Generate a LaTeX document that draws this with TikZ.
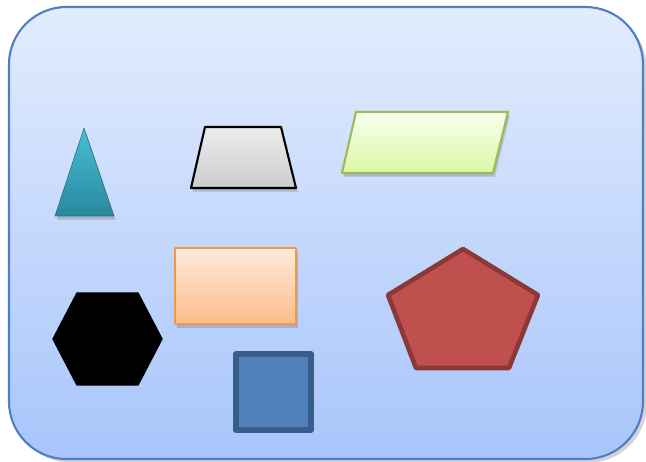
\documentclass[tikz,border=0pt]{standalone}
\usepackage{tikz}
\usetikzlibrary{shadows}

\definecolor{panelTop}{HTML}{E3ECFE}
\definecolor{panelBot}{HTML}{A7C5FB}
\definecolor{panelLine}{HTML}{4F7FC2}
\definecolor{tealTop}{HTML}{45BFD6}
\definecolor{tealBot}{HTML}{2A889E}
\definecolor{greenLine}{HTML}{9BBB59}
\definecolor{greenTop}{HTML}{F8FFEE}
\definecolor{greenBot}{HTML}{DBF8A6}
\definecolor{orangeLine}{HTML}{F79646}
\definecolor{orangeTop}{HTML}{FDEADD}
\definecolor{orangeBot}{HTML}{FBBE88}
\definecolor{blueFill}{HTML}{4F81BD}
\definecolor{blueLine}{HTML}{385D8A}
\definecolor{redFill}{HTML}{C0504D}
\definecolor{redLine}{HTML}{8C3836}

\begin{document}
\begin{tikzpicture}[x=0.02cm, y=-0.02cm, line join=round,
		soft/.style={drop shadow={opacity=0.4, shadow xshift=1pt, shadow yshift=-2pt}},
		panel/.style={draw=panelLine, line width=1.2pt, top color=panelTop, bottom color=panelBot, rounded corners=1.15cm,
			drop shadow={opacity=0.35, shadow xshift=2pt, shadow yshift=-2pt}},
		cone/.style={soft, top color=tealTop, bottom color=tealBot, draw=tealBot!80!black, line width=0.3pt},
		trap/.style={soft, draw=black, line width=1.2pt, top color=gray!15, bottom color=gray!40},
		slant/.style={soft, draw=greenLine, line width=1.2pt, top color=greenTop, bottom color=greenBot},
		card/.style={soft, draw=orangeLine, line width=1.2pt, top color=orangeTop, bottom color=orangeBot},
		hexa/.style={fill=black, draw=black, line width=0.8pt},
		tile/.style={draw=blueLine, line width=3pt, fill=blueFill},
		penta/.style={draw=redLine, line width=2.6pt, fill=redFill}]
		
		\useasboundingbox (0,0) rectangle (646,462);
		
		% Fond
		\path[panel] (9,7) rectangle (643,459);
		
		% Rangée du haut
		\path[cone] (84,128) -- (114,216) -- (55,216) -- cycle;
		\path[trap] (205,127) -- (281,127) -- (296,188) -- (191,188) -- cycle;
		\path[slant] (356,112) -- (508,112) -- (493,173) -- (342,173) -- cycle;
		
		% Rangée du bas
		\path[card] (175,248) rectangle (296,324);
		\path[hexa] (53,339) -- (77,293) -- (138,293) -- (162,339) -- (138,385) -- (77,385) -- cycle;
		\path[tile] (236,354) rectangle (311,430);
		\path[penta] (463,249) -- (538,295) -- (509,368) -- (416,368) -- (388,295) -- cycle;
		
	\end{tikzpicture}
\end{document}
